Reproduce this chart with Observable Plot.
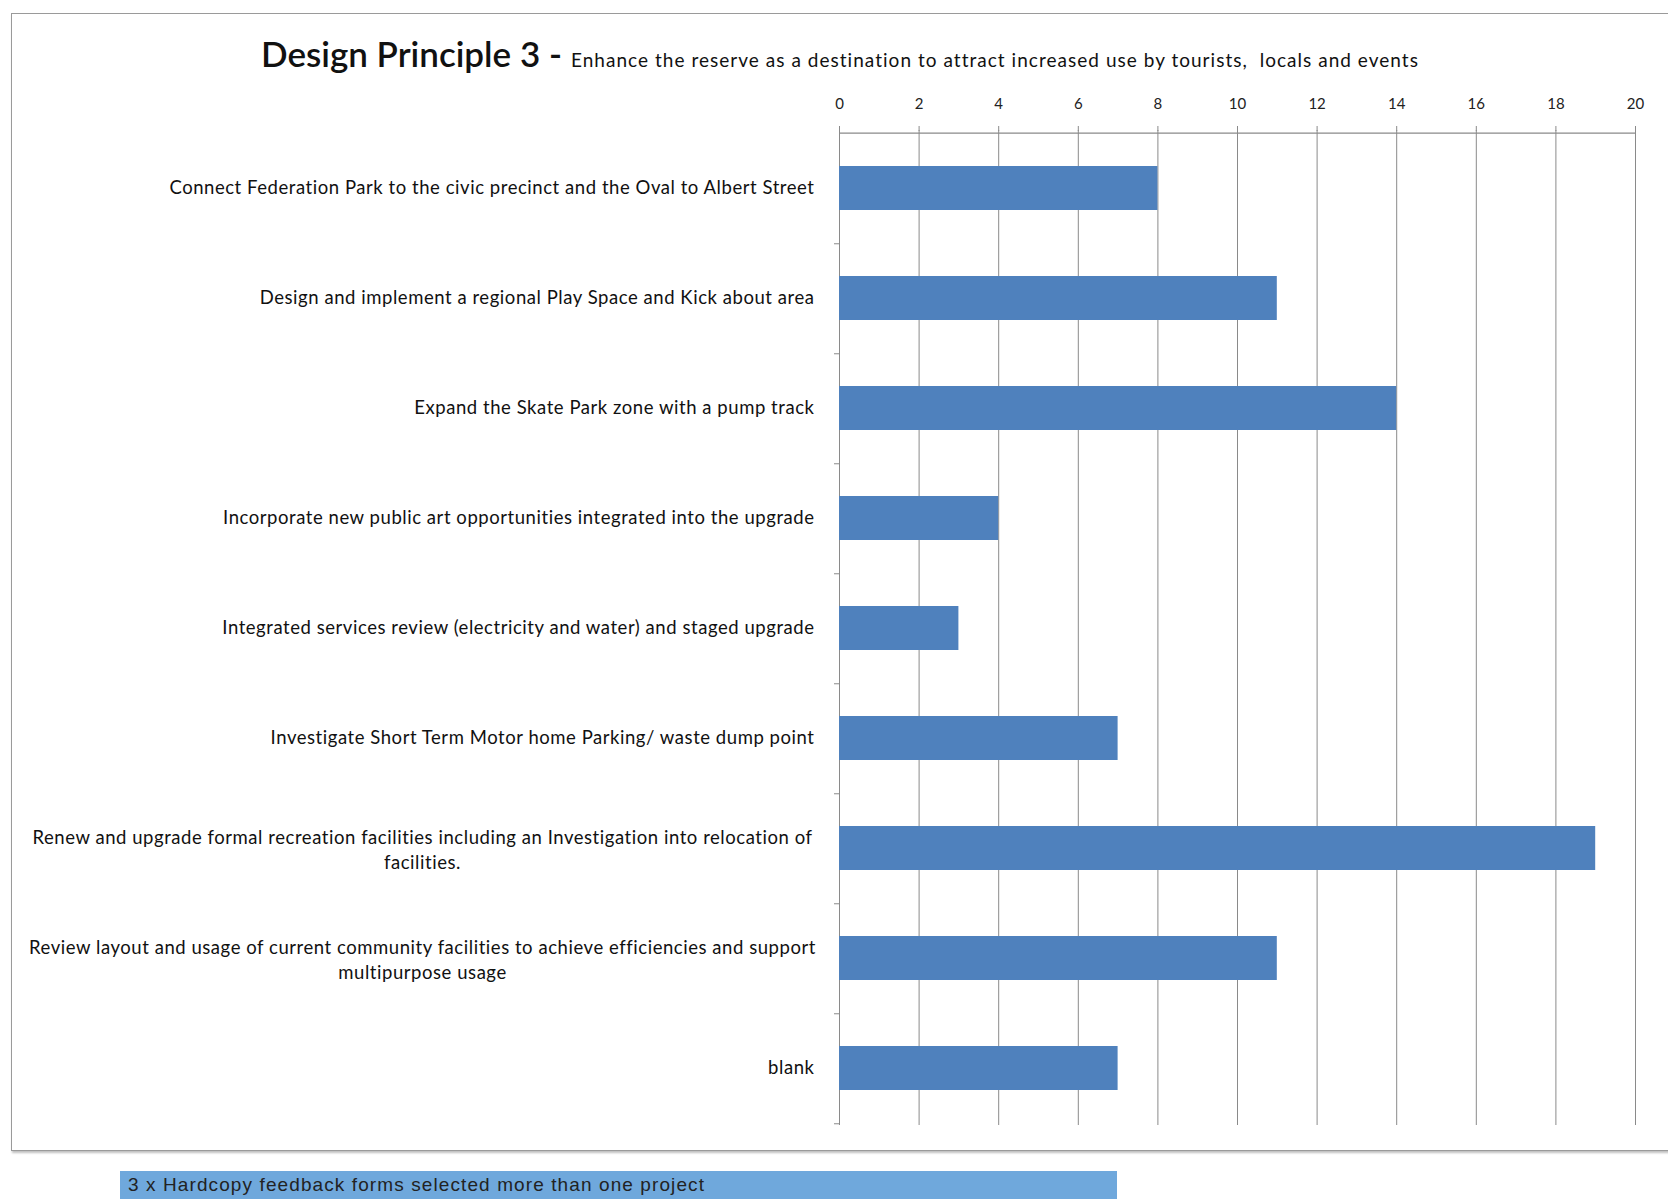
<!DOCTYPE html>
<html>
<head>
<meta charset="utf-8">
<script src="https://cdn.jsdelivr.net/npm/d3@7"></script>
<script src="https://cdn.jsdelivr.net/npm/@observablehq/plot@0.6"></script>
<style>
  html, body { margin: 0; padding: 0; background: #fff; }
  #page { position: relative; width: 1668px; height: 1199px; overflow: hidden; background: #fff; }
  #box { position: absolute; left: 11px; top: 13px; width: 1680px; height: 1138px; border: 1.5px solid #9a9a9a; box-shadow: 1px 2px 2px rgba(0,0,0,0.25); box-sizing: border-box; }
  #chart { position: absolute; left: 0; top: 0; }
  #title { position: absolute; left: 261px; top: 33px; white-space: nowrap; font-family: Lato, "Open Sans", sans-serif; color: #111; line-height: 40px; }
  #title .main { font-size: 35px; font-weight: 600; }
  #title .sub { font-size: 19px; margin-left: 9px; letter-spacing: 1.03px; }
  #caption { position: absolute; left: 120px; top: 1171px; width: 997px; height: 30px; background: #6fa8dc; font-family: "Liberation Sans Narrow", "Arial Narrow", "Liberation Sans", sans-serif; font-size: 19px; letter-spacing: 1.1px; color: #222; line-height: 28px; padding-left: 8px; box-sizing: border-box; }
</style>
</head>
<body>
<div id="page">
  <div id="box"></div>
  <div id="chart"></div>
  <div id="title"><span class="main">Design Principle 3 -</span><span class="sub">Enhance the reserve as a destination to attract increased use by tourists,&nbsp; locals and events</span></div>
  <div id="caption">3 x Hardcopy feedback forms selected more than one project</div>
</div>
<script>
const categories = [
  "Connect Federation Park to the civic precinct and the Oval to Albert Street",
  "Design and implement a regional Play Space and Kick about area",
  "Expand the Skate Park zone with a pump track",
  "Incorporate new public art opportunities integrated into the upgrade",
  "Integrated services review (electricity and water) and staged upgrade",
  "Investigate Short Term Motor home Parking/ waste dump point",
  "Renew and upgrade formal recreation facilities including an Investigation into relocation of\nfacilities.",
  "Review layout and usage of current community facilities to achieve efficiencies and support\nmultipurpose usage",
  "blank"
];
const values = [8, 11, 14, 4, 3, 7, 19, 11, 7];
const xTicks = [0, 2, 4, 6, 8, 10, 12, 14, 16, 18, 20];

const data = categories.map((c, i) => ({category: c, value: values[i]}));

const W = 1668, H = 1150;
const mL = 839, mR = 33, mT = 130, mB = 25;
const step = (H - mT - mB) / categories.length;
const font = "Lato, 'Open Sans', sans-serif";

const plot = Plot.plot({
  width: W,
  height: H,
  marginLeft: mL,
  marginRight: mR,
  marginTop: mT,
  marginBottom: mB,
  style: {fontFamily: font, background: "transparent", color: "#111"},
  x: {domain: [0, 20], axis: null},
  y: {domain: categories, paddingInner: 0.6, paddingOuter: 0.3, axis: null},
  marks: [
    Plot.gridX(xTicks, {stroke: "#8a8a8a", strokeOpacity: 1, strokeWidth: 1}),
    Plot.ruleY([categories[0]], {stroke: "#8a8a8a", strokeWidth: 1.2, dy: -step / 2}),
    Plot.axisX(xTicks, {anchor: "top", tickSize: 5, tickPadding: 17, fontSize: 15, stroke: "#8a8a8a", fill: "#222", label: null}),
    Plot.axisY({tickSize: 5, tickFormat: () => "", stroke: "#8a8a8a", dy: step / 2, label: null}),
    Plot.barX(data, {x: "value", y: "category", fill: "#4f81bd"}),
    Plot.text(data.filter(d => !d.category.includes("\n")), {y: "category", text: "category", frameAnchor: "left", textAnchor: "end", dx: -25, fontSize: 18.5, fill: "#111"}),
    Plot.text(data.filter(d => d.category.includes("\n")), {y: "category", text: "category", frameAnchor: "left", textAnchor: "middle", dx: -417, fontSize: 18.5, lineHeight: 1.35, fill: "#111"})
  ]
});
d3.select(plot).selectAll('g[aria-label="text"] text').style("letter-spacing", "0.55px");
document.getElementById("chart").appendChild(plot);
</script>
</body>
</html>
